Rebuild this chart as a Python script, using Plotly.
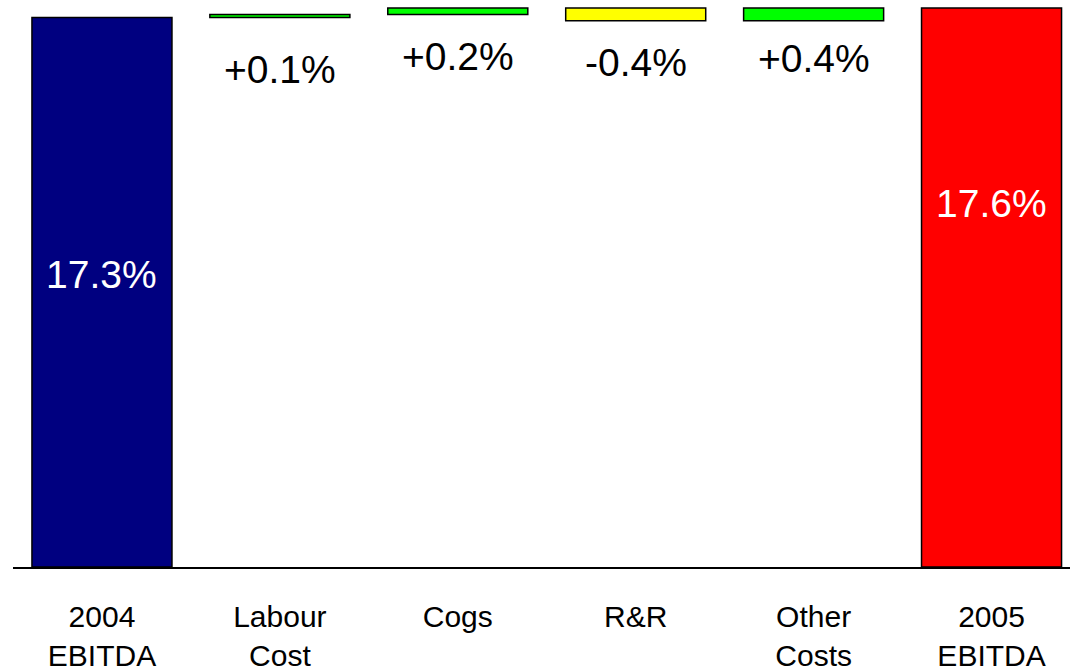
import plotly.graph_objects as go

# EBITDA margin bridge, 2004 -> 2005 (percent of revenue)
categories = ["2004<br>EBITDA", "Labour<br>Cost", "Cogs", "R&R", "Other<br>Costs", "2005<br>EBITDA"]
start_value = 17.3
deltas = [0.1, 0.2, -0.4, 0.4]
end_value = 17.6

# styling
base_colors = ["#000080", "#FF0000"]
up_color = "#00FF00"
down_color = "#FFFF00"
FONT = "Arial, 'Liberation Sans', sans-serif"

# build floating bars: base + height for each step
bases, heights, colors = [0], [start_value], [base_colors[0]]
running = start_value
for d in deltas:
    lo = min(running, running + d)
    bases.append(lo)
    heights.append(abs(d))
    colors.append(up_color if d >= 0 else down_color)
    running += d
bases.append(0)
heights.append(end_value)
colors.append(base_colors[1])

fig = go.Figure()
fig.add_trace(go.Bar(
    x=categories,
    y=heights,
    base=bases,
    width=0.787,
    marker=dict(color=colors, line=dict(color="#000000", width=1.5)),
    hoverinfo="skip",
))

# totals labels inside the end bars
total_shift = [18, 84]
for idx, val, shift in zip([0, len(categories) - 1], [start_value, end_value], total_shift):
    fig.add_annotation(
        x=categories[idx], y=val / 2, text=f"{val:.1f}%",
        showarrow=False, yshift=shift,
        font=dict(family=FONT, size=39, color="#FFFFFF"),
    )

# change labels under each floating bar
delta_shift = [-52, -42, -42, -38]
for i, (d, shift) in enumerate(zip(deltas, delta_shift), start=1):
    fig.add_annotation(
        x=categories[i], y=bases[i], text=f"{d:+.1f}%",
        showarrow=False, yshift=shift, yanchor="middle",
        font=dict(family=FONT, size=39, color="#000000"),
    )

fig.update_layout(
    width=1070, height=672,
    margin=dict(l=13, r=0, t=0, b=100),
    paper_bgcolor="#FFFFFF", plot_bgcolor="#FFFFFF",
    showlegend=False,
    bargap=0.2,
    xaxis=dict(
        range=[-0.5, 5.441],
        showline=True, linecolor="#000000", linewidth=1.5,
        showgrid=False, zeroline=False,
        ticks="", ticklabelstandoff=22,
        tickfont=dict(family=FONT, size=30, color="#000000"),
    ),
    yaxis=dict(
        range=[0, 17.855],
        visible=False, showgrid=False, zeroline=False,
    ),
)

fig.write_html("out.html")
